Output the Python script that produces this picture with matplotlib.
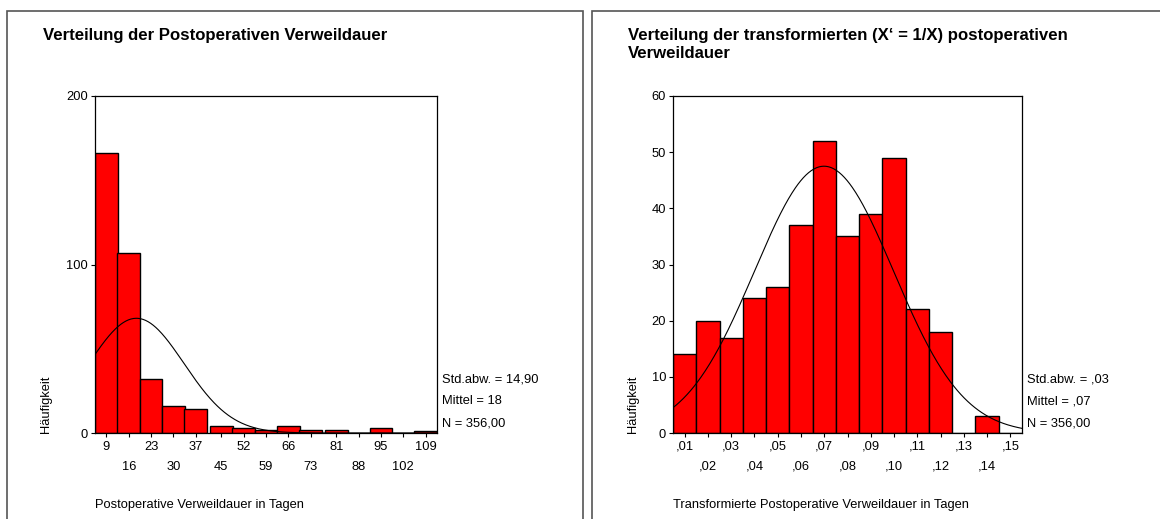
import numpy as np
import matplotlib
matplotlib.use('Agg')
import matplotlib.pyplot as plt
from matplotlib.patches import Rectangle

plt.rcParams['font.family'] = ['Liberation Sans', 'DejaVu Sans']

# left histogram: postoperative length of stay (days)
days_centers = [9, 16, 23, 30, 37, 45, 52, 59, 66, 73, 81, 88, 95, 102, 109]
days_counts = [166, 107, 32, 16, 14, 4, 3, 2, 4, 2, 2, 0, 3, 0, 1]
days_width = 100 / 14
days_mean, days_std, days_n = 18.4, 14.90, 356
days_yticks = [0, 100, 200]

# right histogram: transformed 1/X
inv_centers = [0.01, 0.02, 0.03, 0.04, 0.05, 0.06, 0.07, 0.08, 0.09, 0.10,
               0.11, 0.12, 0.13, 0.14, 0.15]
inv_labels = [',01', ',02', ',03', ',04', ',05', ',06', ',07', ',08', ',09',
              ',10', ',11', ',12', ',13', ',14', ',15']
inv_counts = [14, 20, 17, 24, 26, 37, 52, 35, 39, 49, 22, 18, 0, 3, 0]
inv_width = 0.01
inv_mean, inv_std, inv_n = 0.0699, 0.0299, 356
inv_yticks = [0, 10, 20, 30, 40, 50, 60]

W, H = 1160, 519
fig = plt.figure(figsize=(W / 100, H / 100), dpi=100)
FS = 9.3


def px_axes(x0, y0, x1, y1):
    return fig.add_axes([x0 / W, 1 - y1 / H, (x1 - x0) / W, (y1 - y0) / H])


def panel(ax, centers, counts, width, mean, std, n, yticks, ylim, labels,
          title, xlabel, stats, px_left, px_right, ylab_x, tx):
    centers = np.array(centers, dtype=float)
    ax.bar(centers, counts, width=width, color='#ff0000', edgecolor='black',
           linewidth=1.0, zorder=2)
    lo, hi = centers[0] - width / 2, centers[-1] + width / 2
    xs = np.linspace(lo, hi, 400)
    ys = n * width / (std * np.sqrt(2 * np.pi)) * np.exp(-0.5 * ((xs - mean) / std) ** 2)
    ax.plot(xs, ys, color='black', linewidth=0.8, zorder=3)
    ax.set_xlim(lo, hi)
    ax.set_ylim(*ylim)
    ax.set_yticks(yticks)
    ax.set_xticks(centers[::2])
    ax.set_xticklabels(labels[::2])
    ax.set_xticks(centers[1::2], minor=True)
    ax.set_xticklabels(labels[1::2], minor=True)
    ax.tick_params(axis='both', which='both', direction='out', length=3,
                   width=0.8, labelsize=FS, color='black')
    ax.tick_params(axis='x', which='major', pad=2.5)
    ax.tick_params(axis='x', which='minor', pad=17)
    ax.tick_params(axis='y', pad=2)
    for s in ax.spines.values():
        s.set_linewidth(0.9)
        s.set_color('black')

    fig.text(tx / W, 1 - 28.5 / H, title, fontsize=12.1, fontweight='bold',
             va='top', ha='left', linespacing=1.25)
    fig.text(px_left / W, 1 - 505 / H, xlabel, fontsize=FS, va='center', ha='left')
    fig.text(ylab_x / W, 1 - 433 / H, 'Häufigkeit', fontsize=FS, rotation=90,
             ha='center', va='bottom')
    for i, s in enumerate(stats):
        fig.text((px_right + 5) / W, 1 - (380 + 21.5 * i) / H, s, fontsize=FS,
                 va='center', ha='left')


ax1 = px_axes(95, 96, 437, 433)
panel(ax1, days_centers, days_counts, days_width, days_mean, days_std, days_n,
      days_yticks, (0, 200), [str(c) for c in days_centers],
      'Verteilung der Postoperativen Verweildauer',
      'Postoperative Verweildauer in Tagen',
      ['Std.abw. = 14,90', 'Mittel = 18', 'N = 356,00'],
      95, 437, 46.5, 43)

ax2 = px_axes(673, 96, 1022, 433)
panel(ax2, inv_centers, inv_counts, inv_width, inv_mean, inv_std, inv_n,
      inv_yticks, (0, 60), inv_labels,
      'Verteilung der transformierten (X\u2018 = 1/X) postoperativen\nVerweildauer',
      'Transformierte Postoperative Verweildauer in Tagen',
      ['Std.abw. = ,03', 'Mittel = ,07', 'N = 356,00'],
      673, 1022, 632.5, 628)

# panel frames
fig.patches.append(Rectangle((7 / W, -0.05), (583 - 7) / W, 1.05 - 11 / H,
                             transform=fig.transFigure, fill=False,
                             edgecolor='#555555', linewidth=1.2))
fig.patches.append(Rectangle((592 / W, -0.05), 0.6, 1.05 - 11 / H,
                             transform=fig.transFigure, fill=False,
                             edgecolor='#555555', linewidth=1.2))

fig.savefig('out.png', dpi=100)
